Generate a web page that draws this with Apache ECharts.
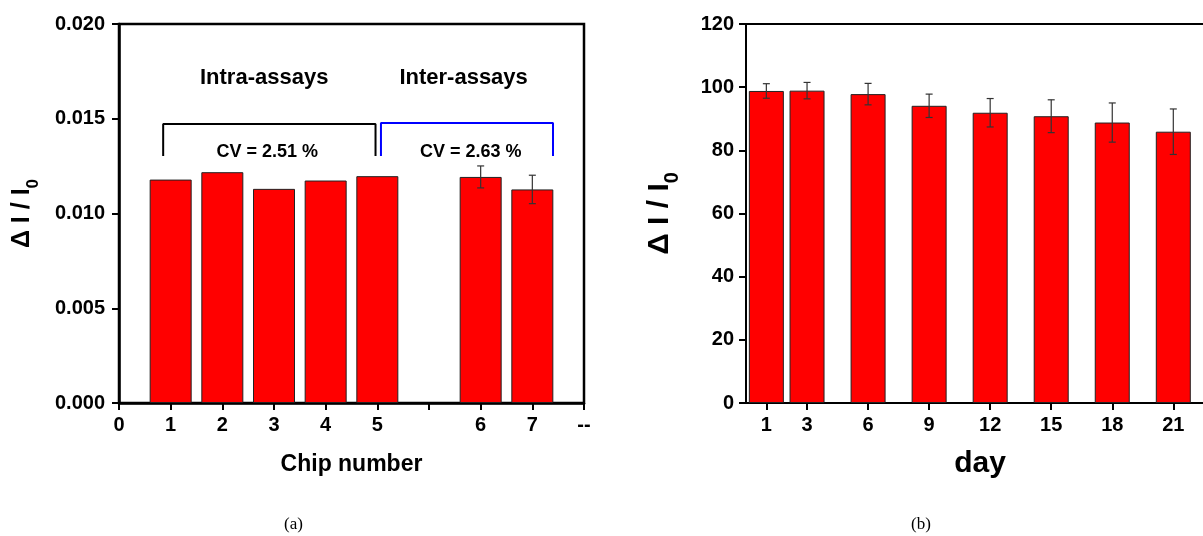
<!DOCTYPE html>
<html>
<head>
<meta charset="utf-8">
<script src="https://cdn.jsdelivr.net/npm/echarts@6/dist/echarts.min.js"></script>
<style>
  html, body { margin: 0; padding: 0; background: #fff; }
  #chart { width: 1203px; height: 536px; }
</style>
</head>
<body>
<div id="chart"></div>
<script>
// (a) reproducibility: chip responses
const chipTickLabels = ['0', '1', '2', '3', '4', '5', '', '6', '7', '--'];
const chipPositions = [1, 2, 3, 4, 5, 7, 8];
const chipValues = [0.01179, 0.01218, 0.01130, 0.01174, 0.01197, 0.01193, 0.01127];
const chipErrors = [0, 0, 0, 0, 0, 0.00058, 0.00075];
const groupTitles = ['Intra-assays', 'Inter-assays'];
const groupCV = ['CV = 2.51 %', 'CV = 2.63 %'];

// (b) stability over storage days
const days = [1, 3, 6, 9, 12, 15, 18, 21];
const dayValues = [98.8, 98.9, 97.8, 94.1, 91.9, 90.8, 88.8, 85.9];
const dayErrors = [2.3, 2.6, 3.4, 3.7, 4.5, 5.2, 6.2, 7.2];

const FONT = '"Liberation Sans", Arial, sans-serif';
const chart = echarts.init(document.getElementById('chart'), null, { renderer: 'canvas' });

function errorSeries(xAxisIndex, yAxisIndex, xs, vals, errs) {
  const data = [];
  xs.forEach((x, i) => { if (errs[i] > 0) data.push([x, vals[i] - errs[i], vals[i] + errs[i]]); });
  return {
    type: 'custom', xAxisIndex, yAxisIndex, z: 5, silent: true,
    data,
    renderItem(params, api) {
      const top = api.coord([api.value(0), api.value(2)]);
      const bot = api.coord([api.value(0), api.value(1)]);
      const cap = 3.5;
      const st = { stroke: '#333', lineWidth: 1.2 };
      return {
        type: 'group',
        children: [
          { type: 'line', shape: { x1: top[0], y1: top[1], x2: bot[0], y2: bot[1] }, style: st },
          { type: 'line', shape: { x1: top[0] - cap, y1: top[1], x2: top[0] + cap, y2: top[1] }, style: st },
          { type: 'line', shape: { x1: bot[0] - cap, y1: bot[1], x2: bot[0] + cap, y2: bot[1] }, style: st }
        ]
      };
    }
  };
}

// text placed in data coordinates of the left panel
function textSeries(items, fontSize) {
  return {
    type: 'custom', xAxisIndex: 0, yAxisIndex: 0, z: 6, silent: true,
    data: items.map(it => [it[0], it[1]]),
    renderItem(params, api) {
      const p = api.coord([api.value(0), api.value(1)]);
      return {
        type: 'text', x: p[0], y: p[1],
        style: {
          text: items[params.dataIndex][2], fill: '#000',
          font: 'bold ' + fontSize + 'px ' + FONT,
          align: 'center', verticalAlign: 'middle'
        }
      };
    }
  };
}

const yNameRich = (big, small, pad) => ({
  fontFamily: FONT,
  rich: {
    a: { fontSize: big, fontWeight: 'bold', color: '#000', fontFamily: FONT },
    b: { fontSize: small, fontWeight: 'bold', color: '#000', fontFamily: FONT, lineHeight: small, padding: [pad, 0, 0, 0] }
  }
});

const tickLabel = { color: '#000', fontSize: 20, fontWeight: 'bold', fontFamily: FONT };

const option = {
  animation: false,
  backgroundColor: '#fff',
  grid: [
    { left: 119, top: 24, width: 465, height: 379, show: true, borderColor: '#000', borderWidth: 2.5, backgroundColor: 'transparent', outerBoundsMode: 'none' },
    { left: 746, top: 24, width: 468, height: 379, show: true, borderColor: '#000', borderWidth: 2, backgroundColor: 'transparent', outerBoundsMode: 'none' }
  ],
  xAxis: [
    {
      type: 'value', gridIndex: 0, min: 0, max: 9, interval: 1,
      splitLine: { show: false },
      axisLine: { onZero: false, lineStyle: { color: '#000', width: 2.5 } },
      axisTick: { length: 7, lineStyle: { color: '#000', width: 2 } },
      axisLabel: Object.assign({ margin: 12, formatter: v => chipTickLabels[Math.round(v)] }, tickLabel),
      name: 'Chip number', nameLocation: 'middle', nameGap: 50,
      nameTextStyle: { color: '#000', fontSize: 23, fontWeight: 'bold', fontFamily: FONT }
    },
    {
      type: 'value', gridIndex: 1, min: 0, max: 23,
      splitLine: { show: false },
      axisLine: { onZero: false, lineStyle: { color: '#000', width: 2 } },
      axisTick: { length: 7, customValues: days, lineStyle: { color: '#000', width: 2 } },
      axisLabel: Object.assign({ margin: 12, customValues: days }, tickLabel),
      name: 'day', nameLocation: 'middle', nameGap: 46,
      nameTextStyle: { color: '#000', fontSize: 30, fontWeight: 'bold', fontFamily: FONT }
    }
  ],
  yAxis: [
    {
      type: 'value', gridIndex: 0, min: 0, max: 0.02, interval: 0.005,
      splitLine: { show: false },
      axisLine: { lineStyle: { color: '#000', width: 2.5 } },
      axisTick: { length: 7, lineStyle: { color: '#000', width: 2 } },
      axisLabel: Object.assign({ margin: 14, formatter: v => v.toFixed(3) }, tickLabel),
      name: '{a|\u0394 I / I}{b|0}', nameLocation: 'middle', nameRotate: 90, nameGap: 84,
      nameTextStyle: yNameRich(25, 17, 22)
    },
    {
      type: 'value', gridIndex: 1, min: 0, max: 120, interval: 20,
      splitLine: { show: false },
      axisLine: { lineStyle: { color: '#000', width: 2 } },
      axisTick: { length: 7, lineStyle: { color: '#000', width: 2 } },
      axisLabel: Object.assign({ margin: 12 }, tickLabel),
      name: '{a|\u0394 I / I}{b|0}', nameLocation: 'middle', nameRotate: 90, nameGap: 71,
      nameTextStyle: yNameRich(30, 20, 25)
    }
  ],
  series: [
    {
      type: 'bar', xAxisIndex: 0, yAxisIndex: 0, barWidth: 42,
      itemStyle: { color: '#ff0000', borderColor: '#222', borderWidth: 1 },
      data: chipPositions.map((x, i) => [x, chipValues[i]])
    },
    errorSeries(0, 0, chipPositions, chipValues, chipErrors),
    {
      type: 'bar', xAxisIndex: 1, yAxisIndex: 1, barWidth: 35,
      itemStyle: { color: '#ff0000', borderColor: '#222', borderWidth: 1 },
      data: days.map((d, i) => [d, dayValues[i]])
    },
    errorSeries(1, 1, days, dayValues, dayErrors),
    // group brackets above the chips
    {
      type: 'line', xAxisIndex: 0, yAxisIndex: 0, symbol: 'none', silent: true, z: 4,
      lineStyle: { color: '#000', width: 2 },
      data: [[0.855, 0.01304], [0.855, 0.01472], [4.965, 0.01472], [4.965, 0.01304]]
    },
    {
      type: 'line', xAxisIndex: 0, yAxisIndex: 0, symbol: 'none', silent: true, z: 4,
      lineStyle: { color: '#0000ff', width: 2 },
      data: [[5.07, 0.01304], [5.07, 0.01478], [8.4, 0.01478], [8.4, 0.01304]]
    },
    textSeries([[2.81, 0.01714, groupTitles[0]], [6.67, 0.01714, groupTitles[1]]], 22),
    textSeries([[2.87, 0.01327, groupCV[0]], [6.81, 0.01327, groupCV[1]]], 18)
  ],
  graphic: [
    { type: 'text', left: 284, top: 516, style: { text: '(a)', font: '17px "Liberation Serif", serif', fill: '#000' } },
    { type: 'text', left: 911, top: 516, style: { text: '(b)', font: '17px "Liberation Serif", serif', fill: '#000' } }
  ]
};

chart.setOption(option);
</script>
</body>
</html>
